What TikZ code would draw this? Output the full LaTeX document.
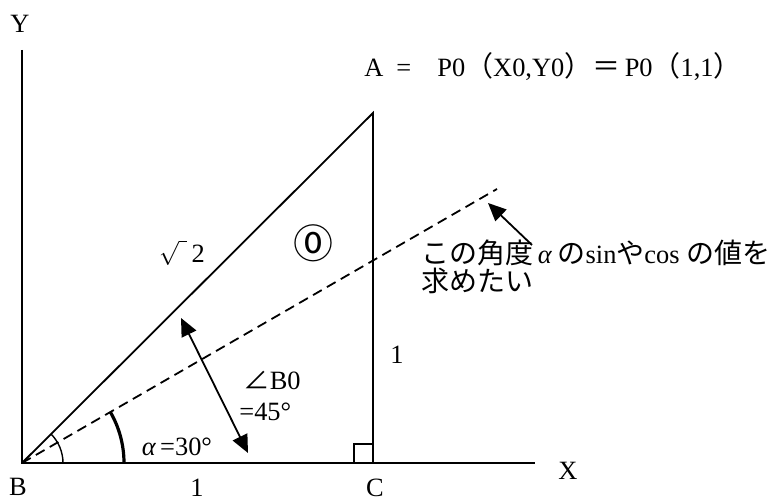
\documentclass[tikz,border=0pt]{standalone}
\usepackage{fontspec}
\setmainfont{Liberation Serif}
\newfontfamily\jpfont{Noto Sans CJK JP}
\usetikzlibrary{angles,arrows.meta,positioning}

\newcommand\jp[1]{{\jpfont\fontsize{14}{15}\selectfont #1}}

\begin{document}
\begin{tikzpicture}[x=0.5pt,y=-0.5pt,
  every node/.style={font=\fontsize{13.2}{15}\selectfont},
  edge/.style={line width=0.9pt},
  guide/.style={line width=0.9pt, dash pattern=on 5pt off 3pt},
  tip/.style={-{Triangle[length=9pt,width=8pt]}},
  jtext/.style={anchor=base west, inner sep=0pt}]
\useasboundingbox (0,0) rectangle (783,501);

% points of the triangle and the axes
\coordinate (B) at (22,463);
\coordinate (C) at (373,463);
\coordinate (A) at (373,113);
\coordinate (D) at (497,189);
\coordinate (Ytop) at (22,50);
\coordinate (Xend) at (535,463);

\draw[edge] (Ytop) -- (B) -- (Xend);
\draw[edge] (B) -- (A) -- (C);
\draw[guide] (B) -- (D);

% right angle at C
\draw[line width=0.7pt] (C) ++(-19,0) -- ++(0,-19) -- ++(19,0);

% angles at B
\pic[draw, line width=0.7pt, angle radius=20.5pt] {angle=C--B--A};
\pic[draw, line width=1.6pt, angle radius=51pt] {angle=C--B--D};

% arrows
\coordinate (m1) at (181,318);
\coordinate (m2) at (248,453);
\draw[edge, {Triangle[length=9pt,width=8pt]}-{Triangle[length=9pt,width=8pt]}] (m1) -- (m2);
\coordinate (t0) at (532,245);
\coordinate (t1) at (488,203);
\draw[edge, tip] (t0) -- (t1);

% labels
\node (ylab) at (20,24) {Y};
\node (xlab) at (568,471) {X};
\node[inner sep=1pt] (blab) at (18,487) {B};
\node[inner sep=1pt] (clab) at (375,488) {C};
\node[inner sep=1pt] (base) at (197,488) {1};
\node (side) at (397,355) {1};
\node (hyp) at (182,253) {$\sqrt{\vphantom{2}\hspace{4pt}}$\,2};
\node (zero) at (313,243) {\jpfont\fontsize{20}{21}\selectfont ⓪};
\node[anchor=west, inner sep=0pt] (angB) at (243,380) {{\jpfont ∠}B0};
\node[anchor=west, inner sep=0pt] (eq45) at (239,412) {=45°};
\node (alpha) at (177,447) {{\itshape α}\,=30°};
\node[jtext] (pa) at (364,77)
  {A\hspace{6.5pt}=\hspace{13pt}P0\jp{（}X0,Y0\jp{）＝}\,P0\jp{（}1,1\jp{）}};
\node[jtext] (note1) at (421,264)
  {\jp{この角度}\,{\itshape α}\hspace{3pt}\jp{の}sin\jp{や}cos \jp{の値を}};
\node[jtext] (note2) at (421,292) {\jp{求めたい}};
\end{tikzpicture}
\end{document}
